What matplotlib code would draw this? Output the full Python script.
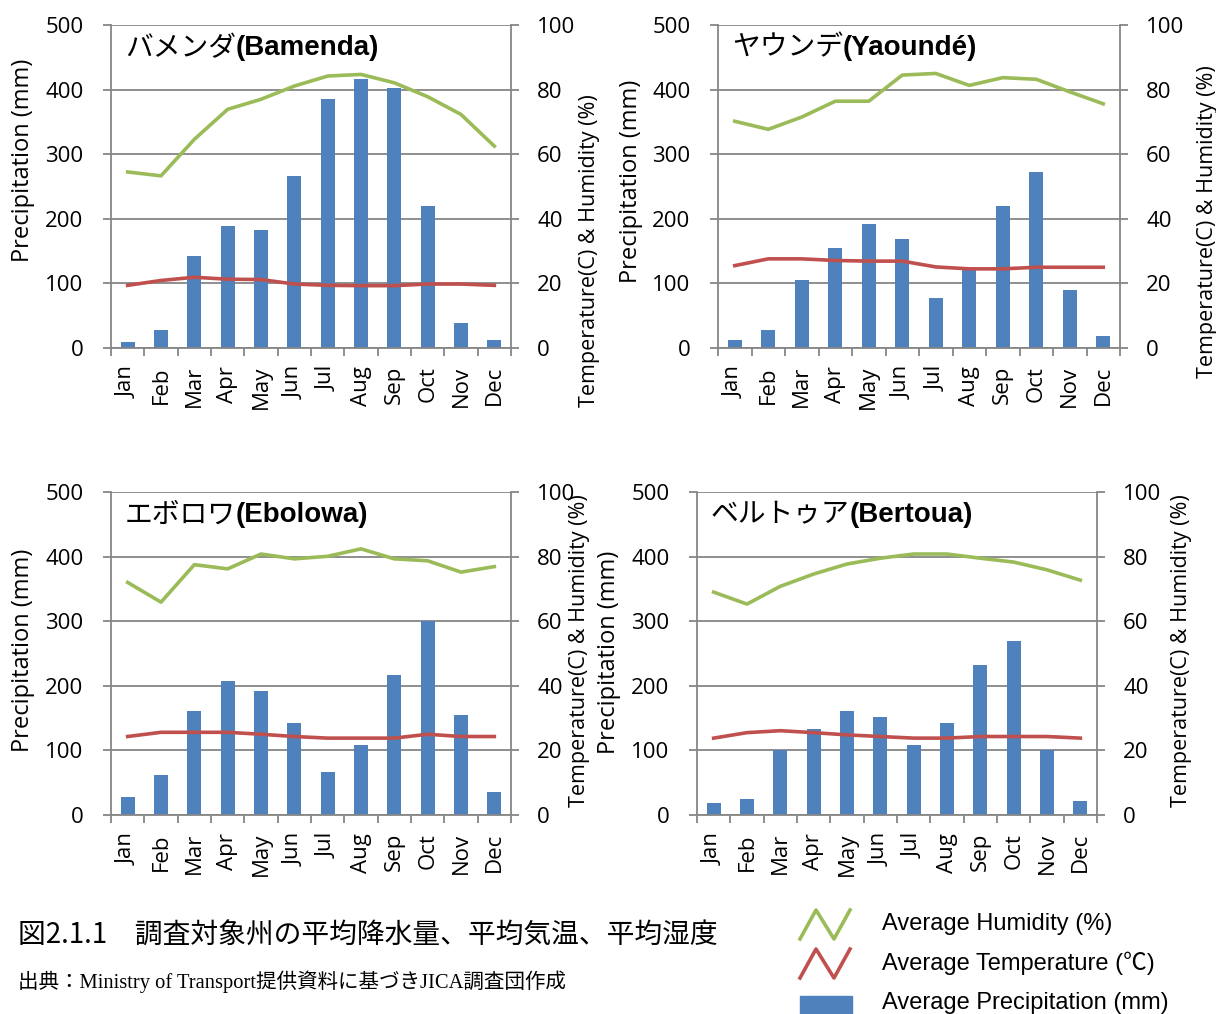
import matplotlib
matplotlib.use("Agg")
import matplotlib.pyplot as plt
import numpy as np

months = ["Jan", "Feb", "Mar", "Apr", "May", "Jun", "Jul", "Aug", "Sep", "Oct", "Nov", "Dec"]

# precipitation (mm)
bamenda_prec = [10, 28, 143, 189, 183, 266, 386, 417, 402, 220, 38, 13]
yaounde_prec = [13, 28, 106, 155, 192, 168, 78, 122, 220, 273, 90, 19]
ebolowa_prec = [28, 62, 161, 208, 192, 143, 66, 108, 217, 301, 155, 35]
bertoua_prec = [19, 25, 101, 133, 161, 152, 108, 143, 232, 270, 101, 22]

# temperature (C)
bamenda_temp = [19.4, 20.9, 21.9, 21.3, 21.2, 19.8, 19.4, 19.3, 19.3, 19.8, 19.8, 19.4]
yaounde_temp = [25.5, 27.6, 27.6, 27.1, 26.9, 26.9, 25.1, 24.5, 24.5, 25.0, 25.0, 25.0]
ebolowa_temp = [24.3, 25.6, 25.6, 25.6, 25.0, 24.3, 23.8, 23.8, 23.8, 25.0, 24.3, 24.3]
bertoua_temp = [23.8, 25.5, 26.1, 25.5, 24.8, 24.3, 23.8, 23.8, 24.3, 24.3, 24.3, 23.8]

# humidity (%)
bamenda_hum = [54.5, 53.3, 64.6, 73.9, 77.0, 81.1, 84.2, 84.7, 82.1, 77.8, 72.3, 62.5]
yaounde_hum = [70.2, 67.7, 71.5, 76.4, 76.4, 84.5, 85.0, 81.3, 83.7, 83.2, 79.3, 75.6]
ebolowa_hum = [72.0, 65.9, 77.5, 76.2, 80.8, 79.3, 80.1, 82.4, 79.3, 78.7, 75.2, 76.9]
bertoua_hum = [69.0, 65.3, 70.8, 74.6, 77.7, 79.5, 80.8, 80.8, 79.5, 78.3, 75.9, 72.7]

BLUE = "#4F81BD"
RED = "#C0504D"
GREEN = "#9BBB59"
GRID = "#868686"
TICKFONT = "Open Sans"

W, H = 1216, 1014
fig = plt.figure(figsize=(W / 100, H / 100), dpi=100)


def px_axes(l, t, r, b):
    return fig.add_axes([l / W, 1 - b / H, (r - l) / W, (b - t) / H])


def panel(rect, jp, en, prec, temp, hum, left_lab, right_lab):
    ax = px_axes(*rect)
    x = np.arange(len(months))
    ax.bar(x, prec, width=0.42, color=BLUE, zorder=2)
    ax.set_xlim(-0.5, 11.5)
    ax.set_ylim(0, 500)
    ax.set_yticks(range(0, 501, 100))
    ax.grid(axis="y", color=GRID, lw=1.3, zorder=0)
    ax.set_axisbelow(True)
    ax.set_xticks(np.arange(-0.5, 12, 1))
    ax.set_xticklabels([])
    ax.set_xticks(x, minor=True)
    ax.set_xticklabels(months, minor=True, rotation=90, fontsize=16, family=TICKFONT)
    ax.tick_params(axis="x", which="major", length=5.5, color=GRID, width=1.3)
    ax.tick_params(axis="x", which="minor", length=0, pad=13)
    ax.tick_params(axis="y", length=5.8, color=GRID, width=1.3, labelsize=16, pad=14)
    for lab in ax.get_yticklabels():
        lab.set_family(TICKFONT)
    for s in ax.spines.values():
        s.set_color(GRID)
        s.set_linewidth(1.3)
    ax.spines["top"].set_visible(False)
    ax.set_ylabel("Precipitation (mm)", fontsize=17, family=TICKFONT)
    ax.yaxis.set_label_coords(*left_lab)

    ax2 = ax.twinx()
    ax2.set_ylim(0, 100)
    ax2.set_yticks(range(0, 101, 20))
    ax2.plot(x, hum, color=GREEN, lw=2.6)
    ax2.plot(x, temp, color=RED, lw=2.6)
    ax2.tick_params(axis="y", length=5.8, color=GRID, width=1.3, labelsize=16, pad=13)
    for lab in ax2.get_yticklabels():
        lab.set_family(TICKFONT)
    for s in ax2.spines.values():
        s.set_visible(False)
    ax2.set_ylabel("Temperature(C) & Humidity (%)", fontsize=15.5, family=TICKFONT)
    ax2.yaxis.set_label_coords(*right_lab)

    t = ax.text(0.035, 0.93, jp, transform=ax.transAxes, fontsize=20,
                family="Noto Sans CJK JP", va="center", ha="left", zorder=5)
    ax.annotate(en, xy=(1, 0.5), xycoords=t, va="center", ha="left",
                fontsize=20, fontweight="bold", family="Liberation Sans", zorder=5)
    return ax


panel((111, 25, 511, 348), "バメンダ", "(Bamenda)", bamenda_prec, bamenda_temp, bamenda_hum,
      (-0.19, 0.58), (1.170, 0.30))
panel((718, 25, 1120, 348), "ヤウンデ", "(Yaoundé)", yaounde_prec, yaounde_temp, yaounde_hum,
      (-0.186, 0.517), (1.191, 0.39))
panel((111, 492, 511, 815), "エボロワ", "(Ebolowa)", ebolowa_prec, ebolowa_temp, ebolowa_hum,
      (-0.19, 0.51), (1.145, 0.51))
panel((697, 492, 1097, 815), "ベルトゥア", "(Bertoua)", bertoua_prec, bertoua_temp, bertoua_hum,
      (-0.19, 0.505), (1.185, 0.51))

# caption
fig.text(18 / W, 1 - 936 / H, "図2.1.1　調査対象州の平均降水量、平均気温、平均湿度",
         fontsize=20, family=["Noto Sans CJK JP", "DejaVu Sans"], va="center", ha="left")
fig.text(18 / W, 1 - 982 / H, "出典：Ministry of Transport提供資料に基づきJICA調査団作成",
         fontsize=14.8, family=["Liberation Serif", "Noto Sans CJK JP"], va="center", ha="left")

# legend
legend_items = [("Average Humidity (%)", GREEN, 924), ("Average Temperature (℃)", RED, 963)]
for label, col, yc in legend_items:
    xs = np.array([800, 816, 834, 850]) / W
    ys = 1 - np.array([yc + 15, yc - 14, yc + 15, yc - 14]) / H
    fig.add_artist(plt.Line2D(xs, ys, color=col, lw=2.6, transform=fig.transFigure))
    fig.text(882 / W, 1 - yc / H, label, fontsize=17,
             family=["Liberation Sans", "Noto Sans CJK JP"], va="center", ha="left")
fig.add_artist(plt.Rectangle((800 / W, 1 - 1014 / H), 52 / W, 18 / H, color=BLUE,
                             transform=fig.transFigure))
fig.text(882 / W, 1 - 1003 / H, "Average Precipitation (mm)", fontsize=17,
         family="Liberation Sans", va="center", ha="left")

fig.savefig("out.png", dpi=100)
